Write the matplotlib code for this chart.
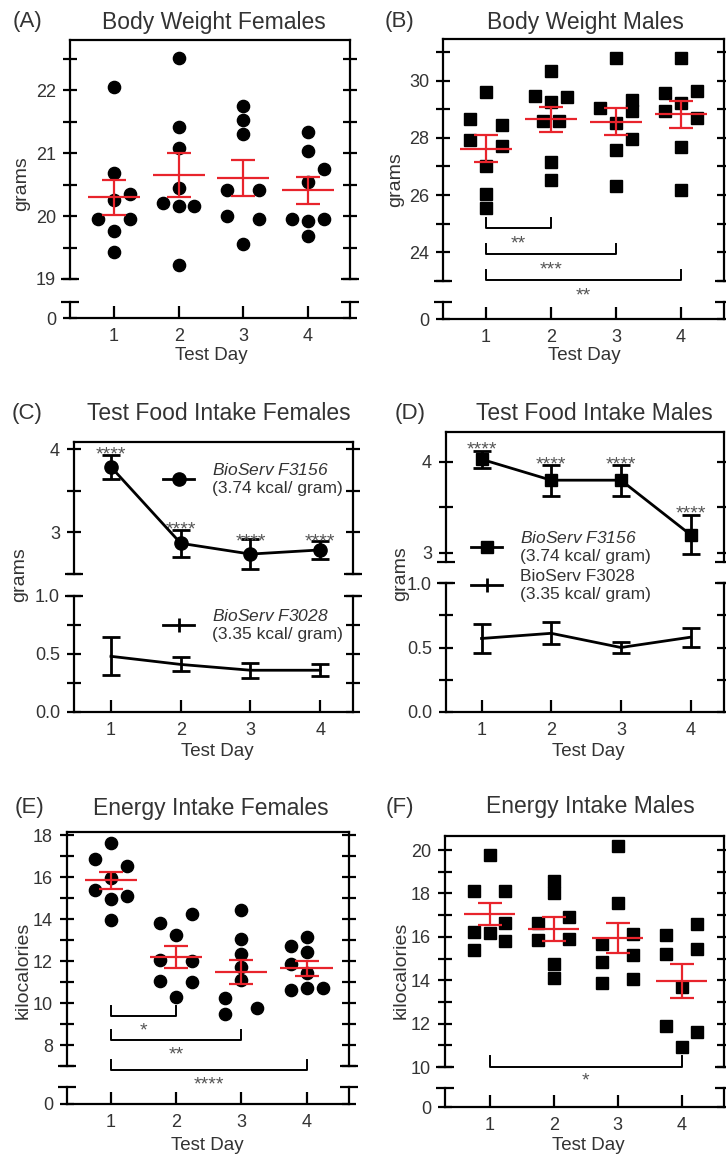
import matplotlib.pyplot as plt
from matplotlib.lines import Line2D

plt.rcParams['font.family'] = ['Liberation Sans', 'DejaVu Sans']
# mathtext is only used for the italic legend names
plt.rcParams['mathtext.fontset'] = 'custom'
plt.rcParams['mathtext.it'] = 'Liberation Sans:italic'
plt.rcParams['mathtext.rm'] = 'Liberation Sans:italic'

W, H = 726, 1157
RED = '#e8242c'
TXT = '#333333'
days = [1, 2, 3, 4]

# (A) body weight females (grams), one list per test day
bw_f = [[22.05, 20.69, 20.25, 20.35, 19.95, 19.95, 19.77, 19.43],
        [22.51, 21.42, 21.09, 20.45, 20.21, 20.16, 20.16, 19.22],
        [21.75, 21.53, 21.30, 20.41, 20.41, 20.00, 19.96, 19.56],
        [21.34, 21.03, 20.75, 20.55, 19.95, 19.92, 19.95, 19.68]]
bw_f_col = [[0, 0, 0, 1, -1, 1, 0, 0],
            [0, 0, 0, 0, -1, 0, 1, 0],
            [0, 0, 0, -1, 1, -1, 1, 0],
            [0, 0, 1, 0, -1, 0, 1, 0]]
bw_f_mean = [20.30, 20.65, 20.61, 20.41]
bw_f_sem = [0.28, 0.35, 0.29, 0.21]

# (B) body weight males (grams)
bw_m = [[29.59, 28.65, 27.92, 28.45, 27.70, 27.03, 26.03, 25.54],
        [30.32, 29.45, 29.41, 29.24, 28.60, 28.60, 27.15, 26.51],
        [30.79, 29.33, 28.95, 29.04, 28.51, 27.95, 27.56, 26.33],
        [30.79, 29.56, 29.62, 29.21, 28.92, 28.69, 27.67, 26.18]]
bw_m_col = [[0, -1, -1, 1, 1, 0, 0, 0],
            [0, -1, 1, 0, -0.5, 0.5, 0, 0],
            [0, 1, 1, -1, 0, 1, 0, 0],
            [0, -1, 1, 0, -1, 1, 0, 0]]
bw_m_mean = [27.62, 28.65, 28.56, 28.82]
bw_m_sem = [0.48, 0.44, 0.47, 0.48]
bw_m_sig = [(1, 2, '**'), (1, 3, '***'), (1, 4, '**')]

# (C) test food intake females (grams)
c_f3156 = [3.79, 2.87, 2.74, 2.79]
c_f3156_sem = [0.145, 0.16, 0.185, 0.11]
c_f3028 = [0.48, 0.41, 0.36, 0.36]
c_f3028_sem = [0.165, 0.06, 0.065, 0.05]

# (D) test food intake males (grams)
d_f3156 = [4.03, 3.80, 3.80, 3.20]
d_f3156_sem = [0.095, 0.17, 0.17, 0.215]
d_f3028 = [0.57, 0.61, 0.50, 0.58]
d_f3028_sem = [0.115, 0.085, 0.04, 0.075]

# (E) energy intake females (kcal)
ei_f = [[17.61, 16.85, 16.55, 15.95, 15.37, 14.97, 15.11, 13.95],
        [13.82, 14.25, 13.24, 12.04, 12.00, 11.03, 10.98, 10.30],
        [14.42, 13.06, 12.32, 11.70, 11.10, 10.24, 9.48, 9.77],
        [13.16, 12.72, 12.43, 11.88, 11.45, 10.63, 10.74, 10.74]]
ei_f_col = [[0, -1, 1, 0, -1, 0, 1, 0],
            [-1, 1, 0, -1, 1, -1, 1, 0],
            [0, 0, 0, 0, 0, -1, -1, 1],
            [0, -1, 0, -1, 0, -1, 0, 1]]
ei_f_mean = [15.84, 12.21, 11.48, 11.66]
ei_f_sem = [0.42, 0.53, 0.59, 0.36]
ei_f_sig = [(1, 2, '*'), (1, 3, '**'), (1, 4, '****')]

# (F) energy intake males (kcal)
ei_m = [[19.77, 18.10, 18.10, 16.23, 16.20, 16.62, 15.80, 15.38],
        [18.57, 18.03, 16.62, 16.92, 15.85, 15.89, 14.74, 14.12],
        [20.18, 17.54, 15.65, 16.12, 14.85, 15.18, 13.85, 14.08],
        [16.08, 15.23, 16.58, 15.42, 13.70, 11.88, 10.92, 11.62]]
ei_m_col = [[0, -1, 1, -1, 0, 1, 1, -1],
            [0, 0, -1, 1, -1, 1, 0, 0],
            [0, 0, -1, 1, -1, 1, -1, 1],
            [-1, -1, 1, 1, 0, -1, 0, 1]]
ei_m_mean = [17.05, 16.38, 15.95, 13.95]
ei_m_sem = [0.52, 0.55, 0.71, 0.79]
ei_m_sig = [(1, 4, '*')]


def box(l, t, r, b):
    return [l / W, 1 - b / H, (r - l) / W, (b - t) / H]


def ftext(x, y, s, **kw):
    kw.setdefault('color', TXT)
    fig.text(x / W, 1 - y / H, s, ha='center', va='center', **kw)


def panel(up, lo, xlim, ylim, lo_ylim):
    a = fig.add_axes(box(*up))
    b = fig.add_axes(box(*lo))
    for ax in (a, b):
        ax.set_facecolor('none')
        ax.set_xlim(*xlim)
        for s in ax.spines.values():
            s.set_linewidth(1.6)
        ax.tick_params(axis='y', which='both', direction='inout', length=10,
                       width=1.6, right=True, labelsize=13, labelcolor=TXT, pad=5)
    a.set_ylim(*ylim)
    b.set_ylim(*lo_ylim)
    a.spines['bottom'].set_visible(False)
    b.spines['top'].set_visible(False)
    a.tick_params(axis='x', bottom=False, labelbottom=False)
    b.set_xticks(days)
    b.tick_params(axis='x', direction='in', length=9, width=1.6,
                  labelsize=13, labelcolor=TXT, pad=7)
    # break caps at the spine ends
    a.plot([0, 1], [0, 0], transform=a.transAxes, ls='none', marker='_',
           ms=13, mew=1.6, color='k', clip_on=False)
    b.plot([0, 1], [1, 1], transform=b.transAxes, ls='none', marker='_',
           ms=13, mew=1.6, color='k', clip_on=False)
    return a, b


def dots(ax, values, cols, means, sems, marker, ms):
    for d, vals, cs in zip(days, values, cols):
        ax.plot([d + 0.245 * c for c in cs], vals, ls='none', marker=marker,
                ms=ms, color='k', mec='k', zorder=3, clip_on=False)
    ax.errorbar(days, means, yerr=sems, fmt='none', ecolor=RED, elinewidth=1.6,
                capsize=8.5, capthick=1.6, zorder=4)
    ax.hlines(means, [d - 0.4 for d in days], [d + 0.4 for d in days],
              color=RED, lw=1.6, zorder=4)


def brackets(ax, sig, levels, leg, gap):
    for (x1, x2, lab), y in zip(sig, levels):
        ax.plot([x1, x1, x2, x2], [y + leg, y, y, y + leg], color='k', lw=1.4,
                clip_on=False)
        ax.annotate(lab, ((x1 + x2) / 2, y - gap), xytext=(0, -8),
                    textcoords='offset points', ha='center', va='baseline',
                    fontsize=14, color='#555555', annotation_clip=False)


def stars(ax, xs, ys):
    for x, y in zip(xs, ys):
        ax.annotate('****', (x, y), xytext=(0, -8), textcoords='offset points',
                    ha='center', va='baseline', fontsize=14, color='#555555',
                    annotation_clip=False)


fig = plt.figure(figsize=(W / 100, H / 100), dpi=100)

# ---- (A)
a, b = panel((70, 40, 350, 279), (70, 302, 350, 318), (0.32, 4.65), (19, 22.8), (0, 1))
a.set_yticks([19, 20, 21, 22])
a.set_yticks([19.5, 20.5, 21.5, 22.5], minor=True)
b.set_yticks([0])
dots(a, bw_f, bw_f_col, bw_f_mean, bw_f_sem, 'o', 8.8)
ftext(28, 22, '(A)', fontsize=16)
ftext(214, 22, 'Body Weight Females', fontsize=16.5)
ftext(22, 184, 'grams', fontsize=14, rotation=90)
ftext(211, 355, 'Test Day', fontsize=13.5)

# ---- (B)
a, b = panel((443, 39, 724, 281), (443, 302, 724, 319), (0.34, 4.66), (23, 31.45), (0, 1))
a.set_yticks([24, 26, 28, 30])
a.set_yticks([23, 25, 27, 29, 31], minor=True)
b.set_yticks([0])
dots(a, bw_m, bw_m_col, bw_m_mean, bw_m_sem, 's', 8.3)
brackets(a, bw_m_sig, [24.84, 23.94, 23.03], 0.35, 0.32)
ftext(400, 22, '(B)', fontsize=16)
ftext(585, 22, 'Body Weight Males', fontsize=16.5)
ftext(396, 180, 'grams', fontsize=14, rotation=90)
ftext(584, 355, 'Test Day', fontsize=13.5)

# ---- (C)
a, b = panel((74, 442, 353, 574), (74, 596, 353, 712), (0.47, 4.47), (2.5, 4.09), (0, 1.0))
a.set_yticks([3, 4])
a.set_yticks([2.5, 3.5], minor=True)
b.set_yticks([0, 0.5, 1.0])
b.set_yticks([0.25, 0.75], minor=True)
b.set_yticklabels(['0.0', '0.5', '1.0'])
a.errorbar(days, c_f3156, yerr=c_f3156_sem, color='k', lw=2, marker='o', ms=9.5,
           capsize=6.5, capthick=2, elinewidth=2, zorder=3)
b.errorbar(days, c_f3028, yerr=c_f3028_sem, color='k', lw=2,
           capsize=6.5, capthick=2, elinewidth=2, zorder=3)
stars(a, days, [4.01, 3.11, 2.97, 2.97])
fig.legend(handles=[Line2D([], [], color='k', lw=2, marker='o', ms=9.5)],
           labels=[r'$BioServ\ F3156$' + '\n(3.74 kcal/ gram)'],
           loc='center left', bbox_to_anchor=(163 / W, 1 - 479 / H),
           frameon=False, borderpad=0, borderaxespad=0, fontsize=12.5,
           handlelength=1.8, handletextpad=1.0, labelcolor=TXT)
fig.legend(handles=[Line2D([], [], color='k', lw=2, marker='|', ms=10, mew=2)],
           labels=[r'$BioServ\ F3028$' + '\n(3.35 kcal/ gram)'],
           loc='center left', bbox_to_anchor=(163 / W, 1 - 625 / H),
           frameon=False, borderpad=0, borderaxespad=0, fontsize=12.5,
           handlelength=1.8, handletextpad=1.0, labelcolor=TXT)
ftext(27, 413, '(C)', fontsize=16)
ftext(219, 413, 'Test Food Intake Females', fontsize=16.5)
ftext(20, 575, 'grams', fontsize=14, rotation=90)
ftext(217, 751, 'Test Day', fontsize=13.5)

# ---- (D)
a, b = panel((446, 432, 724, 562), (446, 583, 724, 712), (0.49, 4.48), (2.9, 4.33), (0, 1.0))
a.set_yticks([3, 4])
a.set_yticks([3.5], minor=True)
b.set_yticks([0, 0.5, 1.0])
b.set_yticks([0.25, 0.75], minor=True)
b.set_yticklabels(['0.0', '0.5', '1.0'])
a.errorbar(days, d_f3156, yerr=d_f3156_sem, color='k', lw=2, marker='s', ms=9,
           capsize=6.5, capthick=2, elinewidth=2, zorder=3)
b.errorbar(days, d_f3028, yerr=d_f3028_sem, color='k', lw=2,
           capsize=6.5, capthick=2, elinewidth=2, zorder=3)
stars(a, days, [4.21, 4.04, 4.04, 3.50])
fig.legend(handles=[Line2D([], [], color='k', lw=2, marker='s', ms=9),
                    Line2D([], [], color='k', lw=2, marker='|', ms=10, mew=2)],
           labels=[r'$BioServ\ F3156$' + '\n(3.74 kcal/ gram)',
                   'BioServ F3028\n(3.35 kcal/ gram)'],
           loc='center left', bbox_to_anchor=(471 / W, 1 - 566 / H),
           frameon=False, borderpad=0, borderaxespad=0, fontsize=12.5,
           handlelength=1.8, handletextpad=1.0, labelspacing=0.3, labelcolor=TXT)
ftext(410, 413, '(D)', fontsize=16)
ftext(594, 413, 'Test Food Intake Males', fontsize=16.5)
ftext(401, 574, 'grams', fontsize=14, rotation=90)
ftext(588, 751, 'Test Day', fontsize=13.5)

# ---- (E)
a, b = panel((67, 832, 349, 1066), (67, 1087, 349, 1104), (0.33, 4.65), (7, 18.15), (0, 1))
a.set_yticks([8, 10, 12, 14, 16, 18])
a.set_yticks([7, 9, 11, 13, 15, 17], minor=True)
b.set_yticks([0])
dots(a, ei_f, ei_f_col, ei_f_mean, ei_f_sem, 'o', 8.8)
brackets(a, ei_f_sig, [9.4, 8.22, 6.79], 0.48, 0.4)
ftext(30, 808, '(E)', fontsize=16)
ftext(211, 808, 'Energy Intake Females', fontsize=16.5)
ftext(23, 970, 'kilocalories', fontsize=14, rotation=90)
ftext(207, 1145, 'Test Day', fontsize=13.5)

# ---- (F)
a, b = panel((445, 836, 724, 1067), (445, 1088, 724, 1107), (0.30, 4.66), (10, 20.65), (0, 1))
a.set_yticks([10, 12, 14, 16, 18, 20])
a.set_yticks([11, 13, 15, 17, 19], minor=True)
b.set_yticks([0])
dots(a, ei_m, ei_m_col, ei_m_mean, ei_m_sem, 's', 8.3)
brackets(a, ei_m_sig, [10.0], 0.49, 0.34)
ftext(400, 807, '(F)', fontsize=16)
ftext(590, 807, 'Energy Intake Males', fontsize=16.5)
ftext(401, 970, 'kilocalories', fontsize=14, rotation=90)
ftext(588, 1146, 'Test Day', fontsize=13.5)

fig.savefig('out.png', dpi=100)
